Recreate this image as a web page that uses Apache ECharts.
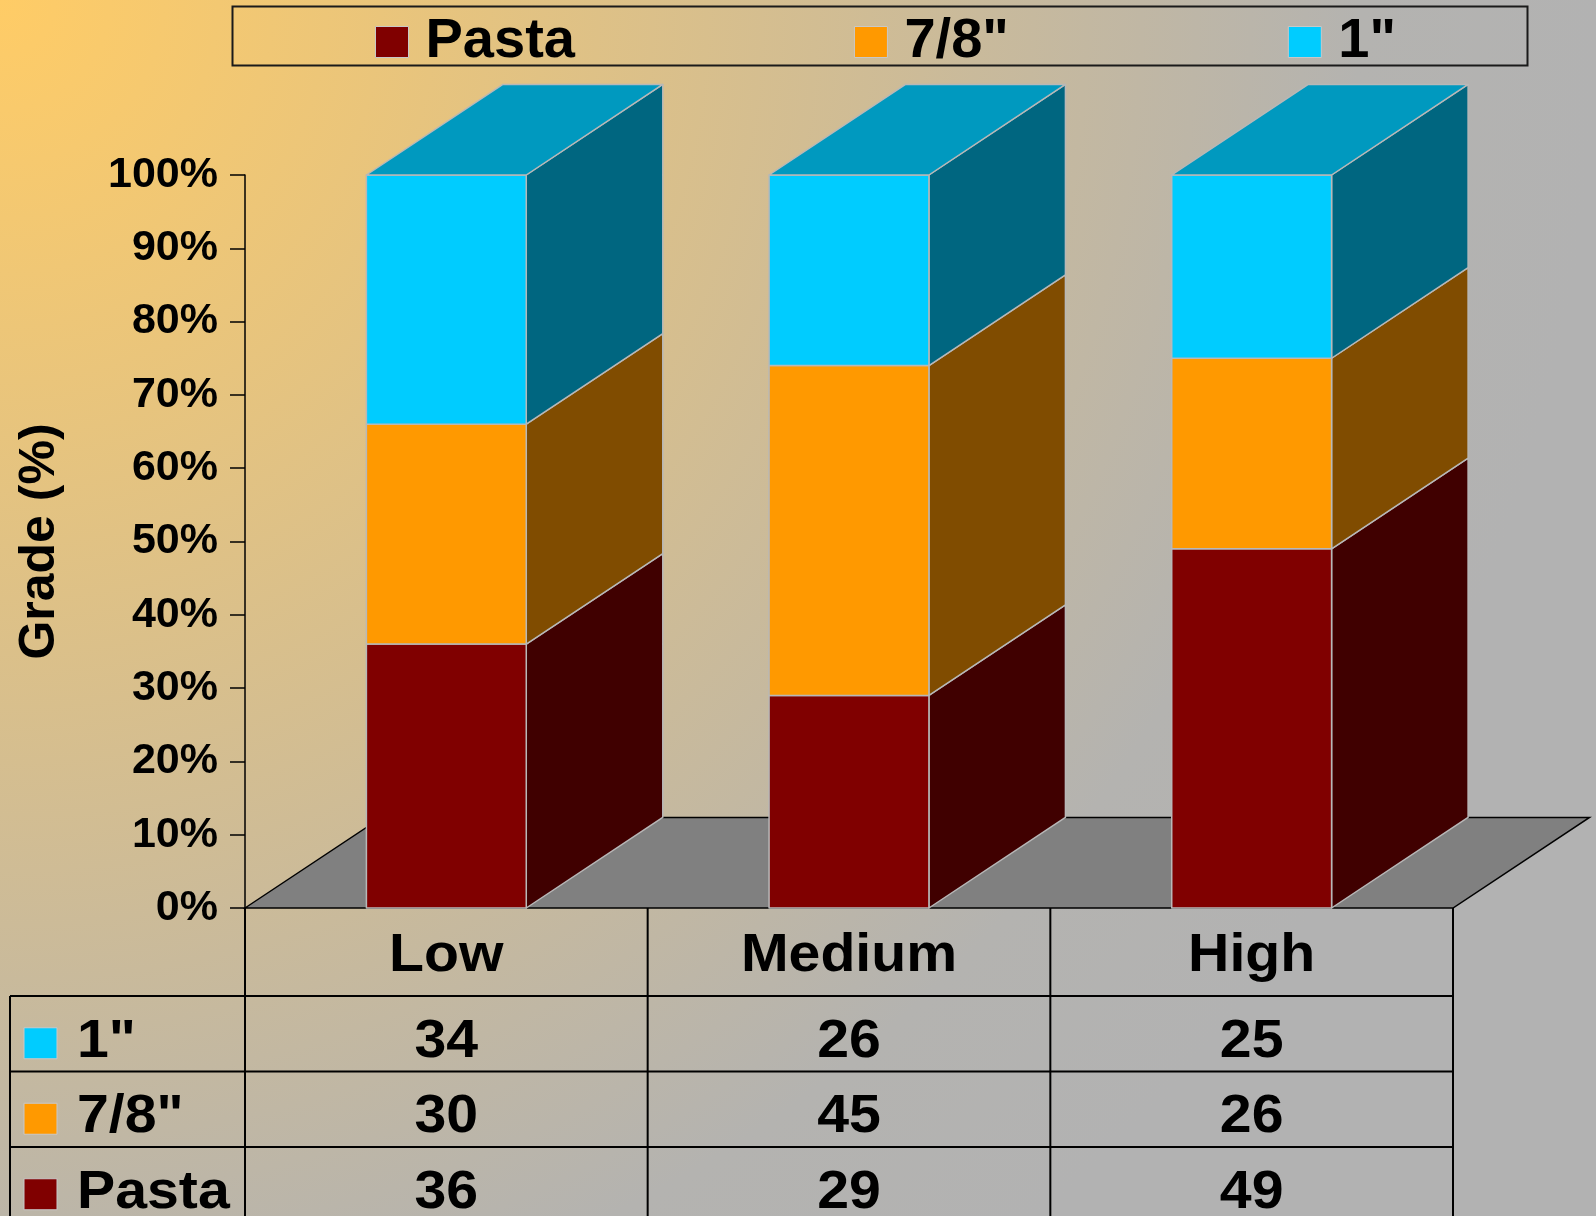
<!DOCTYPE html>
<html><head><meta charset="utf-8">
<script src="https://cdn.jsdelivr.net/npm/echarts@6/dist/echarts.min.js"></script>
<style>html,body{margin:0;padding:0;}#c{width:1596px;height:1216px;}</style>
</head><body><div id="c"></div>
<script>
// ---- data ----
const categories = ['Low', 'Medium', 'High'];
const seriesNames = ['Pasta', '7/8"', '1"'];
const pasta = [36, 29, 49];
const sevenEighths = [30, 45, 26];
const oneInch = [34, 26, 25];
const yTickLabels = ['0%','10%','20%','30%','40%','50%','60%','70%','80%','90%','100%'];

// ---- styles ----
const FONT = "'Liberation Sans', Arial, sans-serif";
const faceColors = {
  'Pasta': { front: '#800000', side: '#400000', top: '#600000' },
  '7/8"':  { front: '#FF9900', side: '#804C00', top: '#BF7300' },
  '1"':    { front: '#00CCFF', side: '#006680', top: '#0099BF' }
};
const EDGE = '#B8B8B8';
const TXT_SX = 1.06;

// stack the values (percent, each category sums to 100)
const seriesValues = [pasta, sevenEighths, oneInch];
const stacked = [];
const base = categories.map(() => 0);
seriesValues.forEach((vals, s) => {
  stacked.push(vals.map((v, i) => { const lo = base[i]; base[i] += v; return [i, lo, base[i]]; }));
});

function depth(api) {
  const catW = api.size([1, 0])[0];
  return { catW: catW, dx: catW * 0.339, dy: -catW * 0.225, bw: catW * 0.397 };
}

function barRender(name, isTop) {
  const col = faceColors[name];
  return function (params, api) {
    const ci = api.value(0), lo = api.value(1), hi = api.value(2);
    const b = api.coord([ci, lo]), t = api.coord([ci, hi]);
    const d = depth(api);
    const x0 = b[0] - d.bw / 2, x1 = x0 + d.bw, yb = b[1], yt = t[1];
    const es = { stroke: EDGE, lineWidth: 1.5, lineJoin: 'round' };
    const ch = [
      { type: 'polygon', shape: { points: [[x1, yb], [x1 + d.dx, yb + d.dy], [x1 + d.dx, yt + d.dy], [x1, yt]] },
        style: Object.assign({ fill: col.side }, es) },
      { type: 'rect', shape: { x: x0, y: yt, width: d.bw, height: yb - yt },
        style: Object.assign({ fill: col.front }, es) }
    ];
    if (isTop) {
      ch.push({ type: 'polygon', shape: { points: [[x0, yt], [x0 + d.dx, yt + d.dy], [x1 + d.dx, yt + d.dy], [x1, yt]] },
        style: Object.assign({ fill: col.top }, es) });
    }
    return { type: 'group', children: ch };
  };
}

function floorRender(params, api) {
  const cs = params.coordSys;
  const d = depth(api);
  const yb = cs.y + cs.height, xl = cs.x, xr = cs.x + cs.width;
  return {
    type: 'polygon',
    shape: { points: [[xl, yb], [xl + d.dx, yb + d.dy], [xr + d.dx, yb + d.dy], [xr, yb]] },
    style: { fill: '#808080', stroke: '#000', lineWidth: 1.5 }
  };
}

const tableRows = [
  { name: '1"', values: oneInch },
  { name: '7/8"', values: sevenEighths },
  { name: 'Pasta', values: pasta }
];

function txt(text, x, y, align) {
  return { type: 'text', x: x, y: y, scaleX: TXT_SX,
    style: { text: text, x: 0, y: 0, align: align, verticalAlign: 'middle', font: 'bold 54px ' + FONT, fill: '#000' } };
}

function tableRender(params, api) {
  const i = api.value(0);
  const c = api.coord([i, 0]);
  const catW = api.size([1, 0])[0];
  const xl = c[0] - catW / 2, xr = c[0] + catW / 2;
  const y0 = c[1];
  const hdr = 88, rh = 75.5, bottom = 1240, leftX = 10;
  const ls = { stroke: '#000', lineWidth: 2 };
  const ch = [];
  ch.push({ type: 'line', shape: { x1: xl, y1: y0, x2: xl, y2: bottom }, style: ls });
  if (i === categories.length - 1) ch.push({ type: 'line', shape: { x1: xr, y1: y0, x2: xr, y2: bottom }, style: ls });
  // header text
  ch.push(txt(categories[i], c[0], y0 + hdr / 2 + 4, 'center'));
  tableRows.forEach((row, r) => {
    const yt = y0 + hdr + r * rh;
    ch.push({ type: 'line', shape: { x1: (i === 0 ? leftX : xl), y1: yt, x2: xr, y2: yt }, style: ls });
    ch.push(txt(String(row.values[i]), c[0], yt + rh / 2 + 8, 'center'));
    if (i === 0) {
      ch.push({ type: 'rect', shape: { x: leftX + 14, y: yt + rh / 2 - 6, width: 33, height: 31 },
        style: { fill: faceColors[row.name].front, stroke: '#C8C8C8', lineWidth: 1 } });
      ch.push(txt(row.name, leftX + 67, yt + rh / 2 + 8, 'left'));
    }
  });
  if (i === 0) ch.push({ type: 'line', shape: { x1: leftX, y1: y0 + hdr, x2: leftX, y2: bottom }, style: ls });
  return { type: 'group', children: ch };
}

const chart = echarts.init(document.getElementById('c'), null, { renderer: 'canvas' });
const series = [
  { type: 'custom', name: 'floor', renderItem: floorRender, data: [[0]], silent: true, z: 1 }
];
seriesNames.forEach((name, s) => {
  series.push({
    type: 'custom', name: name, renderItem: barRender(name, s === seriesNames.length - 1),
    data: stacked[s], encode: { x: 0, y: [1, 2] }, itemStyle: { color: faceColors[name].front, borderColor: '#C8C8C8', borderWidth: 1 },
    z: 2
  });
});
series.push({ type: 'custom', name: 'table', renderItem: tableRender, data: categories.map((c, i) => [i]), silent: true, z: 3 });

chart.setOption({
  animation: false,
  backgroundColor: {
    type: 'radial', x: 0, y: 0, r: 1600, global: true,
    colorStops: [{ offset: 0, color: '#FFCC66' }, { offset: 0.85, color: '#B4B3B0' }, { offset: 1, color: '#B2B2B2' }]
  },
  graphic: [{
    type: 'rect', left: 230, top: 4, shape: { width: 1295, height: 59 },
    style: { fill: 'none', stroke: '#1a1a1a', lineWidth: 2 }, silent: true
  }],
  legend: {
    data: seriesNames, left: 375, top: 14, icon: 'rect', itemWidth: 33, itemHeight: 31, itemGap: 279,
    padding: 0,
    textStyle: { fontFamily: FONT, fontWeight: 'bold', fontSize: 56, color: '#000', padding: [0, 0, 0, 12] },
    itemStyle: { borderColor: '#C8C8C8', borderWidth: 1 }
  },
  grid: { left: 245, top: 175, width: 1208, height: 733, containLabel: false },
  xAxis: {
    type: 'category', data: categories,
    axisLine: { show: false }, axisTick: { show: false }, axisLabel: { show: false }, splitLine: { show: false }
  },
  yAxis: {
    type: 'value', min: 0, max: 100, interval: 10,
    name: 'Grade (%)', nameLocation: 'middle', nameGap: 180,
    nameTextStyle: { fontFamily: FONT, fontWeight: 'bold', fontSize: 50, color: '#000' },
    axisLine: { show: true, lineStyle: { color: '#000', width: 1.5 } },
    axisTick: { show: true, length: 15, lineStyle: { color: '#000', width: 1.5 } },
    axisLabel: { margin: 27, fontFamily: FONT, fontWeight: 'bold', fontSize: 43, color: '#000',
      formatter: function (v) { return yTickLabels[Math.round(v / 10)]; } },
    splitLine: { show: false }
  },
  series: series
});
</script>
</body></html>
